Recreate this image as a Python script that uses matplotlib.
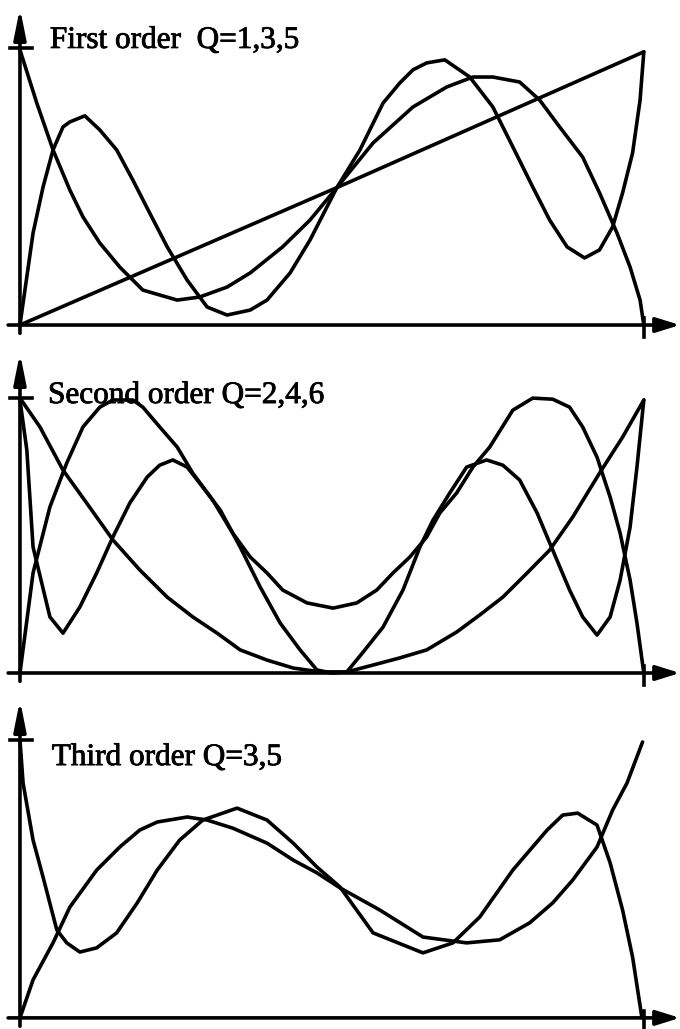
import matplotlib
matplotlib.use("Agg")
import matplotlib.pyplot as plt
import matplotlib.patheffects as pe

# x runs 0..100 along each panel, y runs 0 (axis) .. 100 (top tick)
# ---- First order Q=1,3,5
p1_q1_x = [0, 50.8, 100]
p1_q1_y = [0, 49.6, 98.6]
p1_q3_x = [0, 2.7, 5.3, 8.0, 10.1, 12.8, 16.0, 19.7, 25.2, 28.8, 33.2, 36.9, 42.1, 46.5, 50.8,
           56.6, 63.0, 68.4, 72.6, 75.8, 80.1, 83.3, 86.5, 90.2, 92.9, 95.7, 97.8, 99.4, 100]
p1_q3_y = [99.3, 80.1, 63.2, 48.7, 39.0, 29.6, 20.9, 12.6, 9.0, 10.1, 13.7, 18.8, 28.2, 37.9, 49.6,
           65.7, 78.7, 85.9, 89.5, 89.5, 87.7, 81.2, 71.5, 60.6, 47.7, 33.2, 20.9, 9.0, 0]
p1_q5_x = [0, 2.1, 3.7, 5.3, 6.9, 8.0, 10.4, 12.8, 15.5, 18.1, 20.8, 23.6, 26.8, 30.0, 33.2, 36.9,
           39.6, 43.3, 46.5, 50.8, 54.5, 58.2, 60.9, 63.0, 65.2, 68.1, 72.1, 75.8, 79.0, 82.2,
           84.9, 87.7, 90.5, 92.9, 95.0, 96.6, 98.2, 99.4, 100]
p1_q5_y = [0, 33.2, 49.8, 63.2, 71.5, 73.3, 75.5, 70.4, 63.2, 52.3, 40.4, 28.2, 16.2, 6.5, 3.6, 5.4,
           9.0, 18.8, 30.7, 49.6, 63.2, 80.1, 87.4, 92.1, 94.6, 95.7, 89.5, 78.7, 64.3, 49.8,
           37.9, 28.2, 24.2, 27.1, 35.4, 47.7, 62.1, 81.2, 98.6]

# ---- Second order Q=2,4,6
p2_q2_x = [0, 3.2, 6.9, 10.7, 14.9, 19.2, 23.6, 27.7, 31.6, 35.3, 39.6, 43.8, 48.1, 52.4, 56.6,
           60.9, 65.2, 70.0, 73.7, 77.4, 81.3, 84.9, 88.6, 92.9, 96.6, 100]
p2_q2_y = [100, 89.5, 73.8, 61.8, 48.4, 37.5, 27.6, 20.4, 14.5, 8.4, 4.7, 1.8, 0.4, 0.4, 2.9,
           5.5, 8.4, 14.9, 21.1, 27.6, 36.4, 44.7, 56.7, 72.7, 85.8, 99.3]
p2_q4_x = [0, 2.1, 4.8, 7.5, 10.1, 12.8, 14.9, 18.1, 19.7, 22.4, 25.2, 27.7, 30.9, 34.1, 36.9,
           39.6, 42.1, 46.0, 50.2, 54.0, 57.2, 59.8, 62.5, 65.2, 67.3, 70.0, 72.6, 75.3, 79.0,
           82.2, 85.4, 88.1, 90.2, 92.5, 94.6, 96.2, 97.8, 98.9, 100]
p2_q4_y = [0, 36.4, 60.4, 76.4, 89.5, 96.7, 99.3, 99.3, 96.7, 89.5, 82.2, 72.7, 62.9, 50.9, 42.2,
           36.4, 30.2, 25.5, 23.6, 25.5, 30.2, 36.4, 42.2, 49.5, 58.2, 65.5, 74.9, 82.2, 95.6,
           100, 99.6, 96.7, 89.5, 78.5, 64.0, 50.9, 33.8, 18.2, 0]
p2_q6_x = [0, 1.1, 2.1, 4.8, 6.9, 9.6, 12.3, 14.9, 17.6, 20.4, 22.4, 24.5, 26.8, 28.8, 32.1, 35.3,
           38.5, 41.7, 44.9, 47.6, 50.0, 52.4, 54.9, 58.2, 61.4, 64.1, 66.2, 68.9, 71.6, 74.8,
           77.4, 80.1, 82.9, 85.4, 88.1, 90.2, 92.5, 94.6, 96.2, 97.8, 98.9, 100]
p2_q6_y = [99.3, 81.1, 45.8, 20.4, 14.5, 24.0, 36.4, 49.5, 61.8, 71.3, 75.6, 77.5, 74.9, 69.1,
           59.3, 45.8, 31.3, 18.2, 8.4, 1.1, 0, 0.4, 7.3, 16.7, 30.2, 45.8, 55.6, 65.5, 74.9,
           77.5, 75.6, 70.2, 58.2, 44.7, 30.2, 20.4, 13.8, 20.4, 33.8, 53.1, 74.9, 99.3]

# ---- Third order Q=3,5
p3_q3_x = [0, 2.1, 5.3, 8.0, 12.3, 16.0, 19.2, 22.0, 26.8, 30.0, 34.1, 39.6, 43.8, 47.6, 51.3,
           57.7, 64.6, 71.6, 76.9, 81.7, 85.4, 88.6, 92.5, 95.0, 97.3, 99.8]
p3_q3_y = [0, 13.7, 27.0, 39.9, 53.2, 61.5, 67.6, 70.5, 72.3, 71.2, 68.3, 62.9, 56.8, 52.2, 46.8,
           38.8, 29.1, 27.0, 28.1, 34.2, 41.4, 49.6, 61.5, 74.8, 84.5, 99.3]
p3_q5_x = [0, 0.5, 2.1, 3.7, 5.9, 7.5, 9.6, 12.3, 15.5, 18.8, 22.0, 25.6, 29.3, 34.8, 39.6, 43.8,
           47.6, 51.3, 56.6, 64.6, 69.4, 73.7, 79.0, 84.5, 87.0, 89.4, 92.5, 94.6, 96.6, 98.2, 99.7]
p3_q5_y = [100, 84.5, 64.0, 50.7, 31.7, 27.0, 23.7, 25.2, 30.6, 41.4, 53.2, 64.0, 71.2, 75.5,
           71.2, 62.9, 54.3, 47.1, 30.6, 23.4, 27.0, 36.3, 53.2, 67.6, 73.0, 73.7, 69.4, 55.8,
           38.8, 21.9, 0]

titles = ["First order  Q=1,3,5", "Second order Q=2,4,6", "Third order Q=3,5"]
panels = [
    [(p1_q1_x, p1_q1_y), (p1_q3_x, p1_q3_y), (p1_q5_x, p1_q5_y)],
    [(p2_q2_x, p2_q2_y), (p2_q4_x, p2_q4_y), (p2_q6_x, p2_q6_y)],
    [(p3_q3_x, p3_q3_y), (p3_q5_x, p3_q5_y)],
]

# layout: [bottom, height] in figure fraction, y limits, title position, arrow tip
boxes = [(0.6696, 0.3304), (0.3294, 0.3401), (0.0, 0.3294)]
ylims = [(-5.4, 117.3), (-6.2, 121.1), (-4.0, 118.0)]
title_xy = [(4.8, 100), (4.5, 98.2), (5.1, 91.0)]
tips = [114.4, 116.4, 114.4]

LW = 2.6
fig = plt.figure(figsize=(6.8, 10.29), dpi=100)
fig.patch.set_facecolor("white")

for i in range(3):
    ax = fig.add_axes([0, boxes[i][0], 1, boxes[i][1]])
    ax.set_xlim(-3.2, 105.8)
    ax.set_ylim(*ylims[i])
    ax.axis("off")
    for xs, ys in panels[i]:
        ax.plot(xs, ys, color="black", lw=LW, solid_joinstyle="round",
                solid_capstyle="round", clip_on=False)
    # vertical axis with arrow
    ax.annotate("", xy=(0, tips[i]), xytext=(0, -3),
                arrowprops=dict(arrowstyle="-|>,head_length=1.0,head_width=0.2",
                                mutation_scale=18, lw=LW, color="black",
                                shrinkA=0, shrinkB=0))
    # horizontal axis with arrow
    ax.annotate("", xy=(105.8, 0), xytext=(-1.9, 0),
                arrowprops=dict(arrowstyle="-|>,head_length=0.9,head_width=0.28",
                                mutation_scale=16, lw=LW, color="black",
                                shrinkA=0, shrinkB=0))
    # ticks
    ax.plot([-1.6, 1.9], [100, 100], color="black", lw=LW, clip_on=False)
    ax.plot([100, 100], [2.5, -4.3], color="black", lw=LW, clip_on=False)
    ax.text(title_xy[i][0], title_xy[i][1], titles[i], fontsize=22.5,
            family="Liberation Serif", ha="left", va="baseline", color="black",
            path_effects=[pe.withStroke(linewidth=0.6, foreground="black")])

fig.savefig("out.png", dpi=100, facecolor="white")
